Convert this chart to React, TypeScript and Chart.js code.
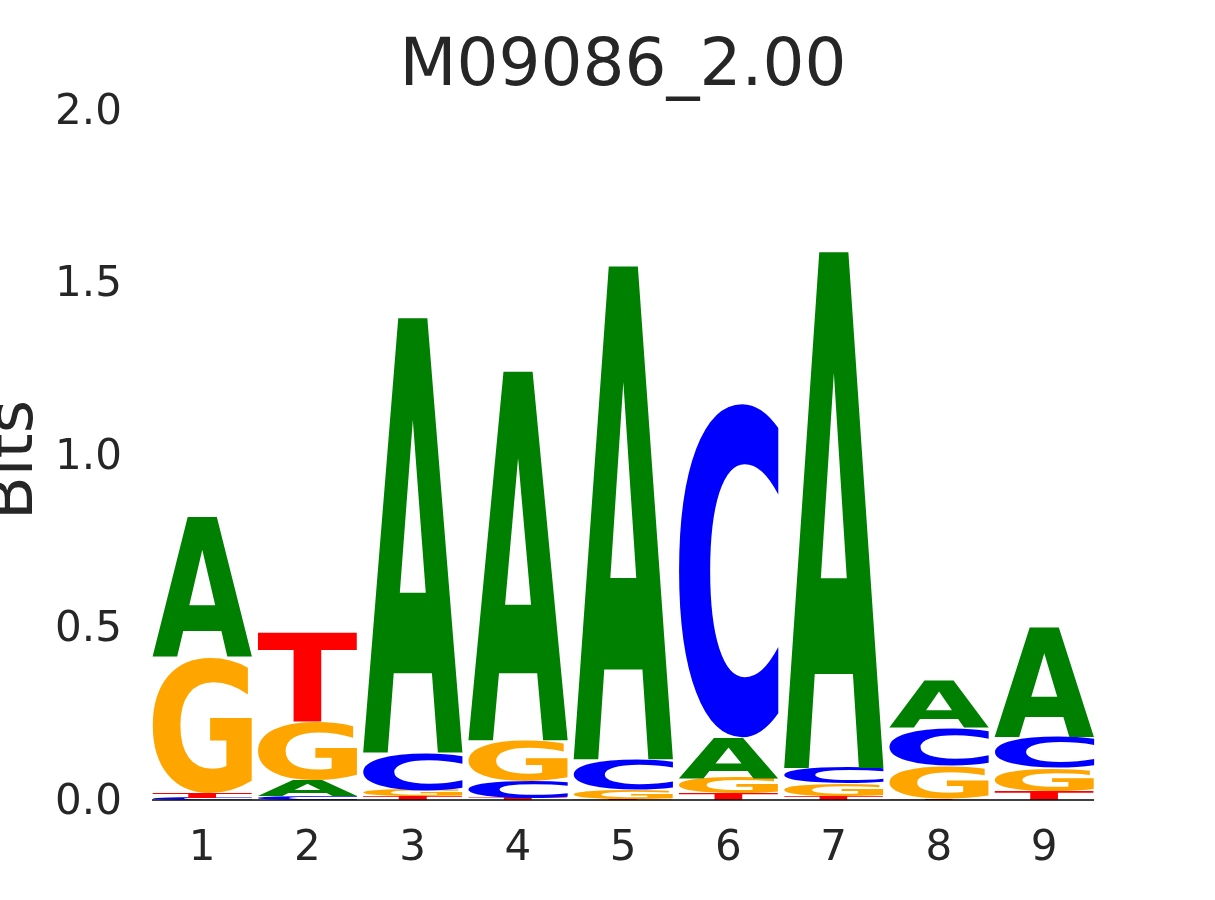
import React, { useEffect, useRef } from "react";
import { Chart, registerables } from "chart.js";

Chart.register(...registerables);

// ---- data (bits per base, per position) ----
const positions = ["1", "2", "3", "4", "5", "6", "7", "8", "9"];
const heightA = [0.404, 0.045, 1.26, 1.07, 1.43, 0.116, 1.497, 0.137, 0.318];
const heightC = [0.007, 0.012, 0.11, 0.049, 0.087, 0.97, 0.046, 0.11, 0.09];
const heightG = [0.394, 0.17, 0.018, 0.118, 0.028, 0.045, 0.035, 0.093, 0.067];
const heightT = [0.015, 0.26, 0.01, 0.006, 0.003, 0.02, 0.012, 0.005, 0.026];
const yTickValues = [0, 0.5, 1.0, 1.5, 2.0];
const chartTitle = "M09086_2.00";
const yAxisTitle = "Bits";

const bases = ["A", "C", "G", "T"];
const letterColors: Record<string, string> = {
  A: "#008000",
  C: "#0000ff",
  G: "#ffa500",
  T: "#ff0000",
};
const textColor = "#262626";
const fontFamily = '"DejaVu Sans", sans-serif';

function buildLayers() {
  const heights: Record<string, number[]> = { A: heightA, C: heightC, G: heightG, T: heightT };
  const layers = bases.map(() => ({ data: [] as number[], letters: [] as string[] }));
  positions.forEach((_, i) => {
    const sorted = bases
      .map((b) => ({ b, h: heights[b][i] }))
      .sort((p, q) => p.h - q.h);
    sorted.forEach((s, k) => {
      layers[k].data.push(s.h);
      layers[k].letters.push(s.b);
    });
  });
  return layers;
}

const logoPlugin = {
  id: "logoLetters",
  afterDatasetsDraw(chart: any) {
    const ctx = chart.ctx as CanvasRenderingContext2D;
    chart.data.datasets.forEach((ds: any, d: number) => {
      const meta = chart.getDatasetMeta(d);
      meta.data.forEach((bar: any, i: number) => {
        const { x, y, base, width } = bar.getProps(["x", "y", "base", "width"], true);
        const h = Math.abs(base - y);
        if (h < 0.3) return;
        const letter = ds.letters[i];
        ctx.save();
        ctx.font = `bold 200px ${fontFamily}`;
        ctx.textAlign = "left";
        ctx.textBaseline = "alphabetic";
        const m = ctx.measureText(letter);
        const gw = m.actualBoundingBoxLeft + m.actualBoundingBoxRight;
        const gh = m.actualBoundingBoxAscent + m.actualBoundingBoxDescent;
        const left = x - width / 2;
        const top = Math.min(y, base);
        ctx.translate(left, top);
        ctx.scale(width / gw, h / gh);
        ctx.fillStyle = letterColors[letter];
        ctx.fillText(letter, m.actualBoundingBoxLeft, m.actualBoundingBoxAscent);
        ctx.restore();
      });
    });
    // baseline at 0
    const meta0 = chart.getDatasetMeta(0);
    const first = meta0.data[0];
    const last = meta0.data[meta0.data.length - 1];
    if (first && last) {
      const y0 = chart.scales.y.getPixelForValue(0);
      ctx.save();
      ctx.strokeStyle = "#000000";
      ctx.lineWidth = 1.5;
      ctx.beginPath();
      ctx.moveTo(first.x - first.width / 2, y0);
      ctx.lineTo(last.x + last.width / 2, y0);
      ctx.stroke();
      ctx.restore();
    }
  },
  afterDraw(chart: any) {
    const ctx = chart.ctx as CanvasRenderingContext2D;
    const area = chart.chartArea;
    ctx.save();
    ctx.fillStyle = textColor;
    ctx.font = `66px ${fontFamily}`;
    ctx.textAlign = "center";
    ctx.textBaseline = "alphabetic";
    ctx.fillText(chartTitle, (area.left + area.right) / 2, 85);
    ctx.restore();

    ctx.save();
    ctx.fillStyle = textColor;
    ctx.font = `64px ${fontFamily}`;
    ctx.textAlign = "center";
    ctx.textBaseline = "alphabetic";
    ctx.translate(32, 460);
    ctx.rotate(-Math.PI / 2);
    ctx.fillText(yAxisTitle, 0, 0);
    ctx.restore();
  },
};

export default function App() {
  const canvasRef = useRef<HTMLCanvasElement | null>(null);

  useEffect(() => {
    if (!canvasRef.current) return;
    const layers = buildLayers();
    const chart = new Chart(canvasRef.current, {
      type: "bar",
      data: {
        labels: positions,
        datasets: layers.map((l, k) => ({
          label: `layer${k}`,
          data: l.data,
          letters: l.letters,
          backgroundColor: "rgba(0,0,0,0)",
          borderWidth: 0,
          categoryPercentage: 1.0,
          barPercentage: 0.95,
        })) as any,
      },
      options: {
        animation: false,
        responsive: true,
        maintainAspectRatio: false,
        layout: { padding: { left: 0, right: 118.3, top: 110, bottom: 0 } },
        plugins: {
          legend: { display: false },
          tooltip: { enabled: false },
          title: { display: false },
        },
        scales: {
          x: {
            stacked: true,
            grid: { display: false, drawTicks: false },
            border: { display: false },
            ticks: {
              color: textColor,
              font: { family: fontFamily, size: 42 },
              padding: 24,
            },
            afterFit: (scale: any) => {
              scale.height = 100;
            },
          },
          y: {
            stacked: true,
            min: 0,
            max: 2,
            grid: { display: false, drawTicks: false },
            border: { display: false },
            afterBuildTicks: (scale: any) => {
              scale.ticks = yTickValues.map((v) => ({ value: v }));
            },
            ticks: {
              color: textColor,
              font: { family: fontFamily, size: 42 },
              padding: 27.5,
              labelOffset: 3,
              callback: (v: any) => Number(v).toFixed(1),
            },
            afterFit: (scale: any) => {
              scale.width = 149.4;
            },
          },
        },
      },
      plugins: [logoPlugin],
    });
    return () => chart.destroy();
  }, []);

  return (
    <div style={{ position: "fixed", left: 0, top: 0, width: 1215, height: 900, background: "#ffffff" }}>
      <canvas ref={canvasRef} />
    </div>
  );
}
